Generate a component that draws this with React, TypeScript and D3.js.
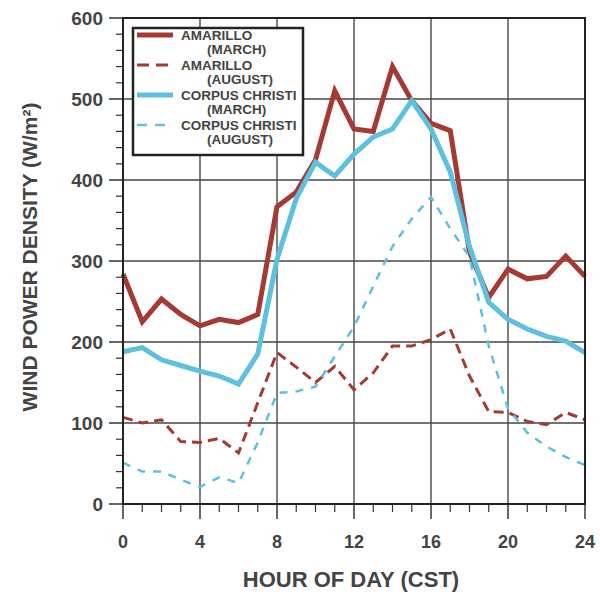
import * as d3 from 'd3';

// hourly values, hour 0..24
const hours = d3.range(0, 25);
const amarilloMarch = [284, 225, 253, 234, 220, 228, 224, 234, 367, 385, 425, 510, 463, 460, 540, 498, 470, 461, 311, 255, 290, 278, 281, 306, 281];
const amarilloAugust = [107, 100, 104, 77, 76, 81, 63, 125, 187, 169, 150, 170, 141, 162, 195, 195, 203, 216, 158, 114, 113, 102, 98, 113, 104];
const corpusMarch = [188, 193, 178, 171, 164, 158, 148, 185, 302, 377, 422, 405, 432, 453, 463, 498, 463, 410, 318, 249, 228, 216, 207, 201, 187];
const corpusAugust = [51, 40, 40, 30, 21, 33, 26, 76, 137, 139, 145, 182, 219, 269, 318, 352, 379, 340, 305, 195, 118, 88, 71, 58, 48];

const xTicks = [0, 4, 8, 12, 16, 20, 24];
const yTicks = [0, 100, 200, 300, 400, 500, 600];

const RED = '#a63a33';
const CYAN = '#5cc0de';

const series = [
  { name: 'AMARILLO', sub: '(MARCH)', values: amarilloMarch, color: RED, width: 5, dash: null },
  { name: 'AMARILLO', sub: '(AUGUST)', values: amarilloAugust, color: RED, width: 3, dash: '10,6' },
  { name: 'CORPUS CHRISTI', sub: '(MARCH)', values: corpusMarch, color: CYAN, width: 5, dash: null },
  { name: 'CORPUS CHRISTI', sub: '(AUGUST)', values: corpusAugust, color: CYAN, width: 2.5, dash: '8,8' },
];

export default function App() {
  const left = 123, right = 585, top = 18, bottom = 504;
  const x = d3.scaleLinear().domain([0, 24]).range([left, right]);
  const y = d3.scaleLinear().domain([0, 600]).range([bottom, top]);
  const line = d3.line<number>().x((_, i) => x(hours[i])).y(d => y(d));
  const font = '"Liberation Sans", Arial, sans-serif';
  const txt = '#444';

  return (
    <svg width={600} height={597} style={{ position: 'absolute', left: 0, top: 0, background: '#fff' }} fontFamily={font}>
      {/* grid */}
      {xTicks.slice(1, -1).map(t => (
        <line key={'gx' + t} x1={x(t)} x2={x(t)} y1={top} y2={bottom} stroke="#555" strokeWidth={1.5} />
      ))}
      {yTicks.slice(1, -1).map(t => (
        <line key={'gy' + t} x1={left} x2={right} y1={y(t)} y2={y(t)} stroke="#444" strokeWidth={1.5} />
      ))}
      {/* minor ticks */}
      {hours.filter(h => h % 4 !== 0).map(h => (
        <line key={'mx' + h} x1={x(h)} x2={x(h)} y1={bottom} y2={bottom + 8} stroke="#333" strokeWidth={1.2} />
      ))}
      {d3.range(0, 601, 20).filter(v => v % 100 !== 0).map(v => (
        <line key={'my' + v} x1={left - 7} x2={left} y1={y(v)} y2={y(v)} stroke="#333" strokeWidth={1.2} />
      ))}
      {/* major ticks */}
      {xTicks.map(t => (
        <line key={'tx' + t} x1={x(t)} x2={x(t)} y1={bottom} y2={bottom + 15} stroke="#333" strokeWidth={1.5} />
      ))}
      {yTicks.map(t => (
        <line key={'ty' + t} x1={left - 14} x2={left} y1={y(t)} y2={y(t)} stroke="#333" strokeWidth={1.5} />
      ))}
      {/* series */}
      {series.map((s, i) => (
        <path key={'s' + i} d={line(s.values) || ''} fill="none" stroke={s.color} strokeWidth={s.width}
          strokeDasharray={s.dash || undefined} strokeLinejoin="miter" />
      ))}
      {/* frame */}
      <rect x={left} y={top} width={right - left} height={bottom - top} fill="none" stroke="#222" strokeWidth={2} />
      {/* tick labels */}
      {xTicks.map(t => (
        <text key={'lx' + t} x={x(t)} y={548} textAnchor="middle" fontSize={18} fontWeight="bold" fill={txt}>{t}</text>
      ))}
      {yTicks.map(t => (
        <text key={'ly' + t} x={103} y={y(t) + 7} textAnchor="end" fontSize={19} fontWeight="bold" fill={txt}>{t}</text>
      ))}
      {/* axis titles */}
      <text x={351} y={587} textAnchor="middle" fontSize={22} fontWeight="bold" fill={txt}>HOUR OF DAY (CST)</text>
      <text transform={`translate(37,257) rotate(-90)`} textAnchor="middle" fontSize={21} fontWeight="bold" fill={txt}>
        WIND POWER DENSITY (W/m²)
      </text>
      {/* legend */}
      <rect x={133} y={28} width={170} height={127} fill="#fff" stroke="#222" strokeWidth={2.5} />
      {series.map((s, i) => {
        const ly = 35 + i * 30;
        return (
          <g key={'lg' + i}>
            <line x1={137} x2={173} y1={ly} y2={ly} stroke={s.color} strokeWidth={s.width}
              strokeDasharray={s.dash ? (i === 1 ? '12,7' : '10,8') : undefined} />
            <text x={181} y={ly + 5} fontSize={13.5} fontWeight="bold" fill={txt}>{s.name}</text>
            <text x={207} y={ly + 19} fontSize={13.5} fontWeight="bold" fill={txt}>{s.sub}</text>
          </g>
        );
      })}
    </svg>
  );
}
